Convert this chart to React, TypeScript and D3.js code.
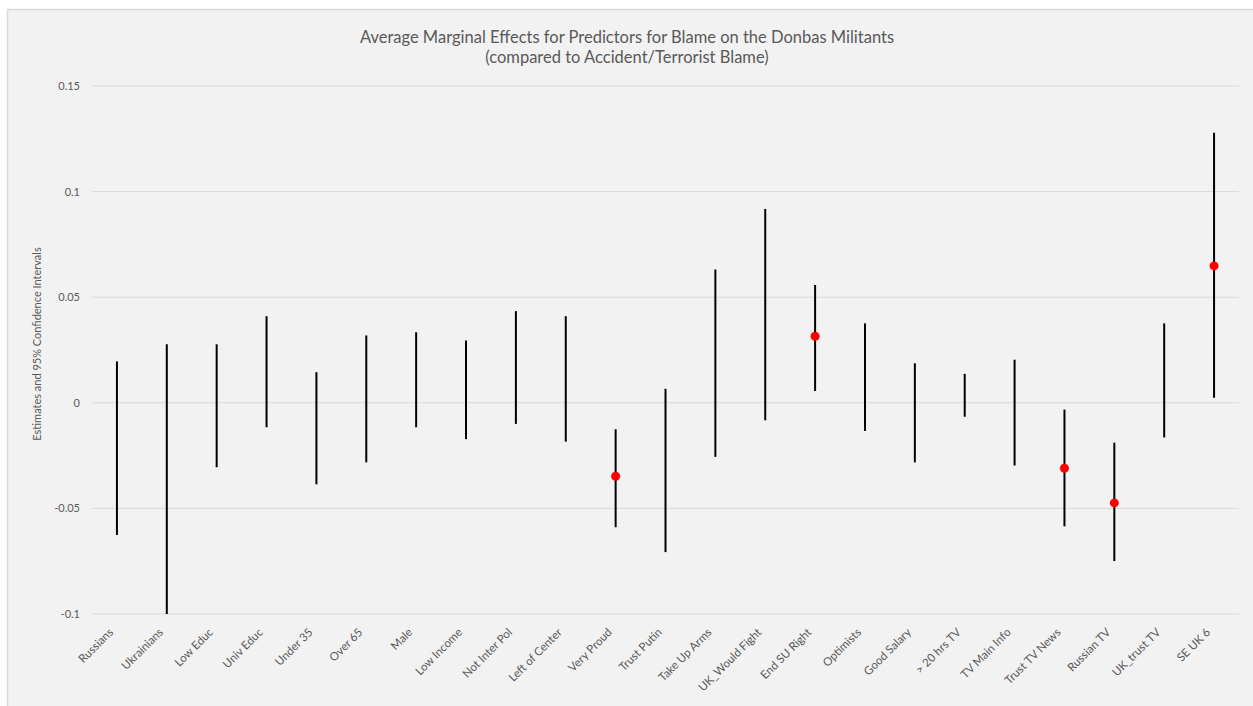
import React from "react";
import * as d3 from "d3";

// Predictors and their 95% confidence intervals for the average marginal effect
const predictors = [
  "Russians", "Ukrainians", "Low Educ", "Univ Educ", "Under 35", "Over 65", "Male",
  "Low Income", "Not Inter Pol", "Left of Center", "Very Proud", "Trust Putin",
  "Take Up Arms", "UK_Would Fight", "End SU Right", "Optimists", "Good Salary",
  "> 20 hrs TV", "TV Main Info", "Trust TV News", "Russian TV", "UK_trust TV", "SE UK 6",
];
const upper = [
  0.0196, 0.0277, 0.0277, 0.041, 0.0145, 0.0319, 0.0334, 0.0295, 0.0434, 0.041,
  -0.0125, 0.0066, 0.0631, 0.0918, 0.0558, 0.0376, 0.0187, 0.0137, 0.0204,
  -0.0032, -0.0189, 0.0376, 0.1279,
];
const lower = [
  -0.0626, -0.1, -0.0305, -0.0116, -0.0386, -0.0282, -0.0116, -0.0172, -0.01, -0.0184,
  -0.0589, -0.0707, -0.0256, -0.0083, 0.0056, -0.0133, -0.0282, -0.0066, -0.0297,
  -0.0585, -0.0749, -0.0164, 0.0024,
];
// Point estimates shown only for the significant predictors
const estimates: (number | null)[] = [
  null, null, null, null, null, null, null, null, null, null,
  -0.0348, null, null, null, 0.0315, null, null, null, null,
  -0.031, -0.0474, null, 0.0648,
];
const yTicks = [-0.1, -0.05, 0, 0.05, 0.1, 0.15];

const W = 1253;
const H = 706;
const plot = { left: 92, right: 1239, top: 86, bottom: 614 };
const font = "Lato, 'Open Sans', sans-serif";
const textColor = "#595959";

export default function App() {
  const x = d3.scaleBand<string>().domain(predictors).range([plot.left, plot.right]);
  const y = d3.scaleLinear().domain([-0.1, 0.15]).range([plot.bottom, plot.top]);
  const cx = (name: string) => (x(name) ?? 0) + x.bandwidth() / 2;

  return (
    <div style={{ position: "fixed", left: 0, top: 0, width: W, height: H, background: "#fff" }}>
      <svg width={W} height={H} style={{ display: "block" }}>
        <rect x={7.5} y={9.5} width={W - 6} height={H} fill="#f2f2f2" stroke="#d9d9d9" strokeWidth={1.5} />
        <text x={627} y={43} textAnchor="middle" fontFamily={font} fontSize={16.5} fill={textColor}>
          Average Marginal Effects for Predictors for Blame on the Donbas Militants
        </text>
        <text x={627} y={63} textAnchor="middle" fontFamily={font} fontSize={16.5} fill={textColor}>
          (compared to Accident/Terrorist Blame)
        </text>

        {yTicks.map((t) => (
          <g key={t}>
            <line x1={plot.left} x2={plot.right} y1={y(t)} y2={y(t)} stroke="#d9d9d9" strokeWidth={1} />
            <text x={80} y={y(t) + 4} textAnchor="end" fontFamily={font} fontSize={11} fill={textColor}>
              {t === 0 ? "0" : String(t)}
            </text>
          </g>
        ))}

        <text
          transform={`translate(41,${(plot.top + plot.bottom) / 2 - 6}) rotate(-90)`}
          textAnchor="middle"
          fontFamily={font}
          fontSize={11}
          fill={textColor}
        >
          Estimates and 95% Confidence Intervals
        </text>

        {predictors.map((p, i) => (
          <line key={p} x1={cx(p)} x2={cx(p)} y1={y(upper[i])} y2={y(lower[i])} stroke="#000" strokeWidth={2} />
        ))}
        {predictors.map((p, i) =>
          estimates[i] === null ? null : (
            <circle key={p} cx={cx(p)} cy={y(estimates[i] as number)} r={4.5} fill="#ff0000" />
          )
        )}

        {predictors.map((p) => (
          <text
            key={p}
            transform={`translate(${cx(p) - 3},${plot.bottom + 19}) rotate(-45)`}
            textAnchor="end"
            fontFamily={font}
            fontSize={11.5}
            fill={textColor}
          >
            {p}
          </text>
        ))}
      </svg>
    </div>
  );
}
